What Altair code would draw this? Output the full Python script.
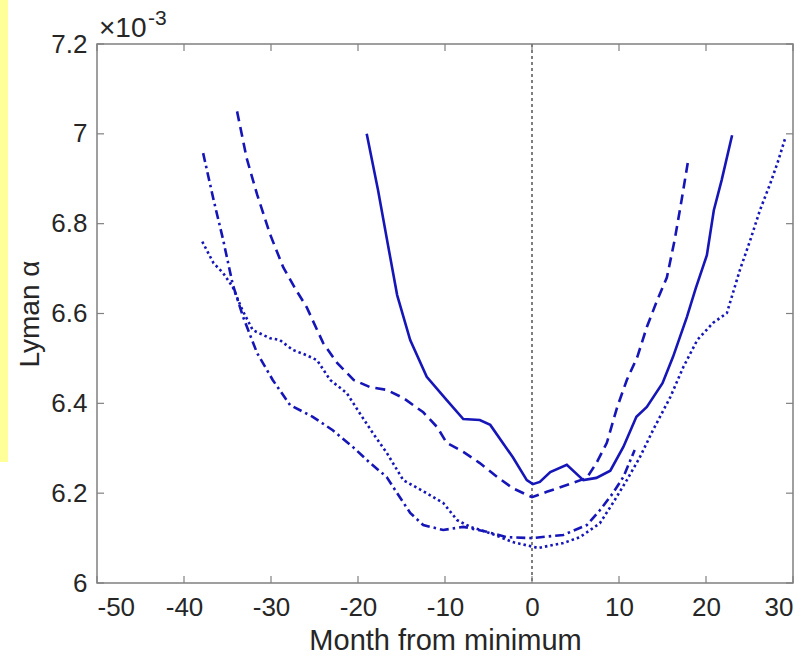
import altair as alt
import pandas as pd

# ---- data (Lyman alpha, units of 1e-3) ----
solid_x = [-19, -17.7, -16.55, -15.5, -14.0, -12.1, -9.8, -7.9, -6.0, -4.8, -2.2, -0.6, 0.1, 0.9, 2.1, 4.0,
           5.9, 7.4, 9.0, 10.5, 12.0, 13.2, 15.0, 16.2, 17.8, 18.8, 20.1, 20.9, 21.8, 23.0]
solid_y = [7.0, 6.875, 6.752, 6.641, 6.541, 6.459, 6.407, 6.365, 6.363, 6.352, 6.28, 6.229, 6.22, 6.225, 6.247, 6.263,
           6.229, 6.234, 6.25, 6.303, 6.37, 6.392, 6.445, 6.503, 6.592, 6.655, 6.73, 6.83, 6.897, 6.997]

dashed_x = [-33.9, -32.8, -31.6, -30.1, -28.6, -27.2, -25.9, -24.0, -22.4, -20.5, -18.6, -16.7, -14.8, -12.5,
            -10.9, -9.8, -7.9, -6.0, -4.0, -2.2, 0.0, 1.7, 4.0, 6.3, 7.4, 8.6, 9.8, 10.9, 12.1, 13.2, 14.4,
            15.5, 16.4, 17.2, 17.9]
dashed_y = [7.05, 6.946, 6.865, 6.776, 6.703, 6.655, 6.614, 6.534, 6.49, 6.452, 6.436, 6.43, 6.412, 6.38,
            6.347, 6.312, 6.292, 6.267, 6.236, 6.211, 6.191, 6.203, 6.218, 6.234, 6.267, 6.312, 6.392, 6.452,
            6.503, 6.57, 6.63, 6.68, 6.764, 6.853, 6.935]

dashdot_x = [-37.8, -36.6, -35.5, -34.4, -33.2, -31.6, -29.8, -27.8, -25.2, -22.9, -20.6, -18.6, -16.7, -15.5,
             -14.0, -12.5, -10.2, -7.9, -5.2, -2.9, 0.0, 3.6, 6.3, 7.8, 9.3, 10.5, 11.8]
dashdot_y = [6.957, 6.853, 6.764, 6.665, 6.592, 6.512, 6.452, 6.396, 6.37, 6.34, 6.303, 6.267, 6.236, 6.2,
             6.156, 6.129, 6.118, 6.125, 6.114, 6.102, 6.1, 6.107, 6.129, 6.162, 6.2, 6.236, 6.296]

dotted_x = [-37.9, -36.6, -35.5, -34.4, -33.3, -32.1, -30.1, -29.0, -27.5, -25.9, -24.7, -23.2, -21.3, -19.8,
            -18.3, -16.7, -14.8, -12.1, -10.2, -8.6, -7.1, -4.8, -2.2, 0.7, 3.6, 5.5, 7.8, 9.3, 10.9, 12.4,
            13.9, 15.9, 17.4, 19.0, 20.8, 22.4, 23.1, 23.9, 25.1, 26.2, 27.4, 28.3, 29.1]
dotted_y = [6.76, 6.712, 6.69, 6.659, 6.608, 6.563, 6.545, 6.541, 6.519, 6.507, 6.496, 6.452, 6.423, 6.378,
            6.334, 6.29, 6.229, 6.2, 6.178, 6.14, 6.125, 6.111, 6.091, 6.078, 6.089, 6.102, 6.133, 6.178,
            6.229, 6.28, 6.34, 6.414, 6.481, 6.541, 6.579, 6.601, 6.646, 6.697, 6.764, 6.83, 6.89, 6.94, 6.99]

x_ticks = [-50, -40, -30, -20, -10, 0, 10, 20, 30]
y_ticks = [6.0, 6.2, 6.4, 6.6, 6.8, 7.0, 7.2]
exponent_base = ["×10"]
exponent_power = ["-3"]

W, H = 696, 539
BLUE = "#1616b8"
FONT = "Liberation Sans"
TXT = "#262626"

def frame(xs, ys):
    return pd.DataFrame({"x": xs, "y": ys, "i": list(range(len(xs)))})

xs = alt.Scale(domain=[-50, 30], nice=False, zero=False)
ys = alt.Scale(domain=[6.0, 7.2], nice=False, zero=False)

X = alt.X("x:Q", scale=xs, axis=alt.Axis(values=x_ticks, title="Month from minimum", domain=False, ticks=False,
                                          grid=False, labelFontSize=26, labelPadding=11, labelColor=TXT,
                                          labelFont=FONT, labelExpr="'' + datum.value",
                                          titleFont=FONT, titleFontSize=29, titleFontWeight="normal",
                                          titleColor=TXT, titlePadding=6))
Y = alt.Y("y:Q", scale=ys, axis=alt.Axis(values=y_ticks, title="Lyman α", domain=False, ticks=False, grid=False,
                                          labelFontSize=26, labelPadding=10, labelColor=TXT, labelFont=FONT,
                                          labelExpr="replace(format(datum.value, '.1f'), '.0', '')",
                                          titleFont=FONT, titleFontSize=28, titleFontWeight="normal",
                                          titleColor=TXT, titlePadding=6))

def line(xv, yv, dash):
    kw = dict(color=BLUE, strokeWidth=2.6, clip=True)
    if dash:
        kw["strokeDash"] = dash
    return alt.Chart(frame(xv, yv)).mark_line(**kw).encode(x=X, y=Y, order="i:Q")

xt = pd.DataFrame({"x": x_ticks})
yt = pd.DataFrame({"y": y_ticks})
tick_style = dict(color="#808080", strokeWidth=1.2)
xtick_b = alt.Chart(xt).mark_rule(**tick_style).encode(x=X, y=alt.value(H), y2=alt.value(H - 7))
xtick_t = alt.Chart(xt).mark_rule(**tick_style).encode(x=X, y=alt.value(0), y2=alt.value(7))
ytick_l = alt.Chart(yt).mark_rule(**tick_style).encode(y=Y, x=alt.value(0), x2=alt.value(7))
ytick_r = alt.Chart(yt).mark_rule(**tick_style).encode(y=Y, x=alt.value(W), x2=alt.value(W - 7))

zero = alt.Chart(pd.DataFrame({"x": [0]})).mark_rule(color="#555555", strokeWidth=1.5, strokeDash=[3, 3]).encode(
    x=X, y=alt.value(0), y2=alt.value(H))

one = pd.DataFrame({"a": [0]})
yellow = alt.Chart(one).mark_rect(color="#ffff99", clip=False).encode(
    x=alt.value(-97), x2=alt.value(-89), y=alt.value(-44), y2=alt.value(418))
exp1 = alt.Chart(pd.DataFrame({"t": exponent_base})).mark_text(
    font=FONT, fontSize=28, color=TXT, align="left", baseline="alphabetic").encode(
    x=alt.value(2), y=alt.value(-7), text="t:N")
exp2 = alt.Chart(pd.DataFrame({"t": exponent_power})).mark_text(
    font=FONT, fontSize=21, color=TXT, align="left", baseline="alphabetic").encode(
    x=alt.value(51), y=alt.value(-19), text="t:N")

chart = alt.layer(
    yellow, zero, xtick_b, xtick_t, ytick_l, ytick_r,
    line(dashdot_x, dashdot_y, [9, 4, 2.5, 4]),
    line(dotted_x, dotted_y, [2.5, 3]),
    line(dashed_x, dashed_y, [10, 6]),
    line(solid_x, solid_y, None),
    exp1, exp2,
).properties(
    width=W, height=H,
    padding={"left": 97, "top": 44, "right": 16, "bottom": 80},
    autosize=alt.AutoSizeParams(type="none"),
    background="white",
).configure_view(stroke="#808080", strokeWidth=1.5)

chart.save("out.html", embed_options={"renderer": "svg", "actions": False})
